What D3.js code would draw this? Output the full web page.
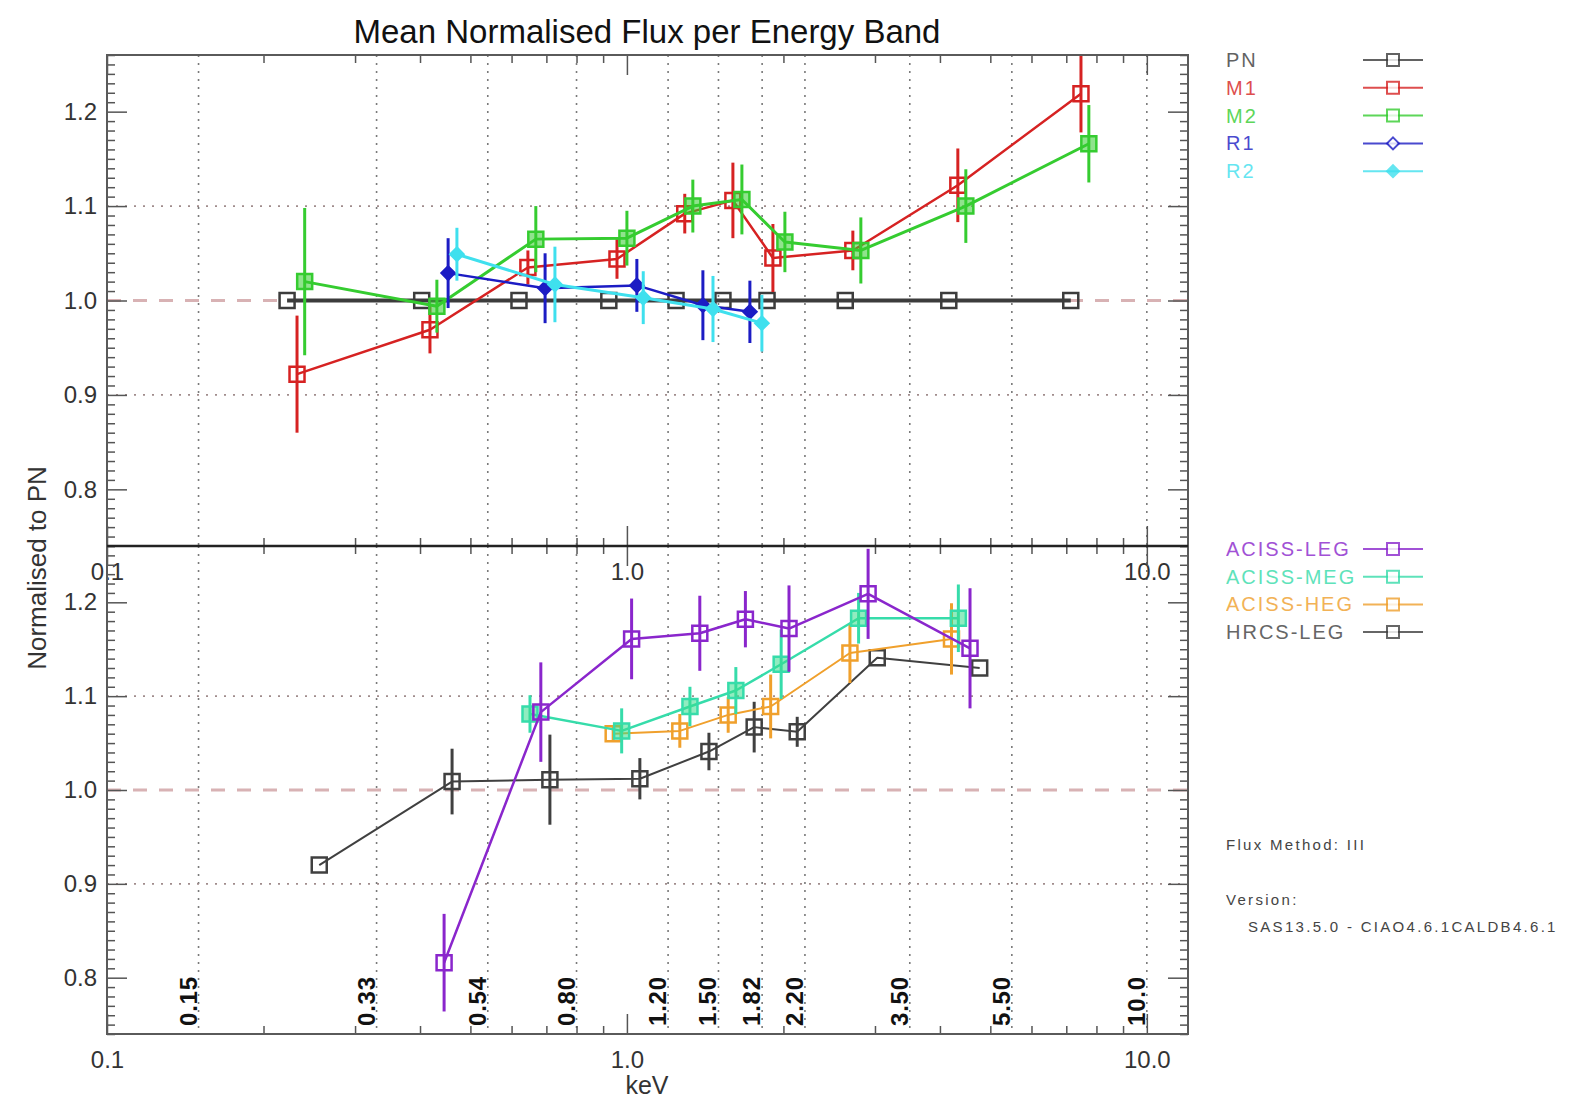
<!DOCTYPE html>
<html>
<head>
<meta charset="utf-8">
<script src="https://cdn.jsdelivr.net/npm/d3@7"></script>
<style>
  body { margin: 0; background: #fff; }
  svg { display: block; font-family: "Liberation Sans", Arial, sans-serif; }
</style>
</head>
<body>
<svg id="chart" width="1569" height="1101"></svg>
<script>
// ---- Energy bands (keV) and axis labels ----
const bandEdges  = [0.15, 0.33, 0.54, 0.80, 1.20, 1.50, 1.82, 2.20, 3.50, 5.50, 10.0];
const bandLabels = ["0.15", "0.33", "0.54", "0.80", "1.20", "1.50", "1.82", "2.20", "3.50", "5.50", "10.0"];
const xTickValues = [0.1, 1, 10];
const xTickLabels = ["0.1", "1.0", "10.0"];
const xMinorTicks = [0.2, 0.3, 0.4, 0.5, 0.6, 0.7, 0.8, 0.9, 2, 3, 4, 5, 6, 7, 8, 9];
const yTickValues = [0.8, 0.9, 1.0, 1.1, 1.2];
const yTickLabels = ["0.8", "0.9", "1.0", "1.1", "1.2"];
const yGridValues = [0.9, 1.1];

// ---- XMM-Newton instruments, normalised to PN ----
const pnEnergy = [0.222, 0.403, 0.620, 0.923, 1.243, 1.53, 1.86, 2.63, 4.16, 7.14];
const pnFlux   = [1.0, 1.0, 1.0, 1.0, 1.0, 1.0, 1.0, 1.0, 1.0, 1.0];
const pnErr    = [0, 0, 0, 0, 0, 0, 0, 0, 0, 0];

const m1Energy = [0.232, 0.418, 0.645, 0.957, 1.292, 1.599, 1.909, 2.72, 4.33, 7.47];
const m1Flux   = [0.922, 0.969, 1.035, 1.044, 1.092, 1.106, 1.045, 1.053, 1.122, 1.219];
const m1Err    = [0.062, 0.025, 0.018, 0.021, 0.021, 0.040, 0.036, 0.021, 0.039, 0.041];

const m2Energy = [0.240, 0.431, 0.668, 1.0, 1.339, 1.664, 2.013, 2.818, 4.486, 7.735];
const m2Flux   = [1.020, 0.994, 1.065, 1.066, 1.100, 1.107, 1.062, 1.053, 1.100, 1.166];
const m2Err    = [0.078, 0.028, 0.035, 0.029, 0.028, 0.037, 0.032, 0.035, 0.039, 0.041];

const r1Energy = [0.453, 0.696, 1.045, 1.400, 1.724];
const r1Flux   = [1.029, 1.013, 1.016, 0.995, 0.988];
const r1Err    = [0.037, 0.037, 0.028, 0.037, 0.033];

const r2Energy = [0.471, 0.727, 1.075, 1.464, 1.818];
const r2Flux   = [1.049, 1.017, 1.003, 0.991, 0.976];
const r2Err    = [0.028, 0.040, 0.028, 0.035, 0.030];

// ---- Chandra instruments, normalised to PN ----
const legEnergy = [0.445, 0.683, 1.021, 1.381, 1.69, 2.05, 2.91, 4.57];
const legFlux   = [0.816, 1.083, 1.161, 1.167, 1.182, 1.172, 1.209, 1.151];
const legErr    = [0.052, 0.053, 0.043, 0.040, 0.030, 0.046, 0.048, 0.064];

const megEnergy = [0.651, 0.977, 1.322, 1.62, 1.98, 2.79, 4.34];
const megFlux   = [1.081, 1.063, 1.089, 1.106, 1.134, 1.183, 1.183];
const megErr    = [0.020, 0.024, 0.021, 0.025, 0.037, 0.027, 0.036];

const hegEnergy = [0.941, 1.264, 1.566, 1.89, 2.685, 4.21];
const hegFlux   = [1.060, 1.063, 1.080, 1.089, 1.146, 1.161];
const hegErr    = [0.008, 0.018, 0.019, 0.034, 0.032, 0.038];

const hrcEnergy = [0.256, 0.461, 0.711, 1.059, 1.438, 1.757, 2.126, 3.03, 4.77];
const hrcFlux   = [0.920, 1.009, 1.011, 1.012, 1.041, 1.067, 1.062, 1.141, 1.130];
const hrcErr    = [0, 0.035, 0.048, 0.022, 0.020, 0.027, 0.016, 0, 0];

// ---- Series styling ----
const topSeries = [
  { name: "PN", color: "#3c3c3c", marker: "square", fill: "none", width: 4, energy: pnEnergy, flux: pnFlux, err: pnErr },
  { name: "M1", color: "#d62222", marker: "square", fill: "none", width: 2.5, energy: m1Energy, flux: m1Flux, err: m1Err },
  { name: "M2", color: "#35cc30", marker: "square", fill: "rgba(53,204,48,0.55)", width: 3, energy: m2Energy, flux: m2Flux, err: m2Err },
  { name: "R1", color: "#1c1cc4", marker: "diamond", fill: "#1c1cc4", width: 2.5, energy: r1Energy, flux: r1Flux, err: r1Err },
  { name: "R2", color: "#3fe0ee", marker: "diamond", fill: "#3fe0ee", width: 3, energy: r2Energy, flux: r2Flux, err: r2Err }
];
const bottomSeries = [
  { name: "HRCS-LEG", color: "#404040", marker: "square", fill: "none", width: 2, energy: hrcEnergy, flux: hrcFlux, err: hrcErr },
  { name: "ACISS-HEG", color: "#f0a02c", marker: "square", fill: "none", width: 2, energy: hegEnergy, flux: hegFlux, err: hegErr },
  { name: "ACISS-MEG", color: "#36dcaa", marker: "square", fill: "rgba(54,220,140,0.55)", width: 2.5, energy: megEnergy, flux: megFlux, err: megErr },
  { name: "ACISS-LEG", color: "#8a26cc", marker: "square", fill: "none", width: 2.5, energy: legEnergy, flux: legFlux, err: legErr }
];
const bottomLegendOrder = ["ACISS-LEG", "ACISS-MEG", "ACISS-HEG", "HRCS-LEG"];

// ---- Geometry ----
const svg = d3.select("#chart");
const L = 107, R = 1188;
const topPanel = { y0: 55, y1: 546 };
const botPanel = { y0: 546, y1: 1034 };

const x = d3.scaleLog().domain([0.1, 12]).range([L, R]);
const yTop = d3.scaleLinear().domain([0.74, 1.26]).range([topPanel.y1, topPanel.y0]);
const yBot = d3.scaleLinear().domain([0.74, 1.26]).range([botPanel.y1, botPanel.y0]);

const yMinor = d3.range(74, 127).map(v => v / 100).filter(v => Math.round(v * 100) % 10 !== 0);
const yMajor = d3.range(8, 13).map(v => v / 10);

function clip(id, p) {
  svg.append("clipPath").attr("id", id)
    .append("rect").attr("x", L).attr("y", p.y0).attr("width", R - L).attr("height", p.y1 - p.y0);
}
clip("clipTop", topPanel);
clip("clipBot", botPanel);

function stripDomain(g) { g.select(".domain").remove(); }

function drawGrid(p, y) {
  const g = svg.append("g");
  // vertical band boundaries
  g.selectAll("line.vgrid").data(bandEdges).join("line")
    .attr("x1", d => x(d)).attr("x2", d => x(d))
    .attr("y1", p.y0).attr("y2", p.y1)
    .attr("stroke", "#7a7a7a").attr("stroke-width", 1.6)
    .attr("stroke-dasharray", "2,6");
  // horizontal dotted grid
  g.selectAll("line.hgrid").data(yGridValues).join("line")
    .attr("x1", L).attr("x2", R)
    .attr("y1", d => y(d)).attr("y2", d => y(d))
    .attr("stroke", "#a08c8c").attr("stroke-width", 1.6)
    .attr("stroke-dasharray", "2,7");
  // unity reference
  g.append("line")
    .attr("x1", L).attr("x2", R)
    .attr("y1", y(1.0)).attr("y2", y(1.0))
    .attr("stroke", "#d8b2b4").attr("stroke-width", 3)
    .attr("stroke-dasharray", "14,12");
}

function drawAxes(p, y) {
  const labelStyle = g => g.selectAll("text")
    .attr("font-size", 24).attr("fill", "#333")
    .attr("font-family", "Liberation Sans, Arial, sans-serif");
  // left
  svg.append("g").attr("transform", `translate(${L},0)`)
    .call(d3.axisLeft(y).tickValues(yMinor).tickSize(-8).tickFormat(""))
    .call(stripDomain);
  svg.append("g").attr("transform", `translate(${L},0)`)
    .call(d3.axisLeft(y).tickValues(yMajor).tickSize(-20).tickPadding(10)
      .tickFormat(d => { const i = yTickValues.findIndex(v => Math.abs(v - d) < 1e-9); return i >= 0 ? yTickLabels[i] : ""; }))
    .call(stripDomain)
    .call(labelStyle);
  // right
  svg.append("g").attr("transform", `translate(${R},0)`)
    .call(d3.axisRight(y).tickValues(yMinor).tickSize(-8).tickFormat(""))
    .call(stripDomain);
  svg.append("g").attr("transform", `translate(${R},0)`)
    .call(d3.axisRight(y).tickValues(yMajor).tickSize(-20).tickFormat(""))
    .call(stripDomain);
  // top
  svg.append("g").attr("transform", `translate(0,${p.y0})`)
    .call(d3.axisTop(x).tickValues(xMinorTicks).tickSize(-8).tickFormat(""))
    .call(stripDomain);
  svg.append("g").attr("transform", `translate(0,${p.y0})`)
    .call(d3.axisTop(x).tickValues(xTickValues).tickSize(-20).tickFormat(""))
    .call(stripDomain);
  // bottom
  svg.append("g").attr("transform", `translate(0,${p.y1})`)
    .call(d3.axisBottom(x).tickValues(xMinorTicks).tickSize(-8).tickFormat(""))
    .call(stripDomain);
  svg.append("g").attr("transform", `translate(0,${p.y1})`)
    .call(d3.axisBottom(x).tickValues(xTickValues).tickSize(-20).tickPadding(17)
      .tickFormat((d, i) => xTickLabels[i]))
    .call(stripDomain)
    .call(labelStyle);
  svg.selectAll(".tick line").attr("stroke", "#555").attr("stroke-width", 1.5);
}

function markerPath(type, size) {
  const h = size / 2;
  if (type === "diamond") return `M0,${-h}L${h},0L0,${h}L${-h},0Z`;
  return `M${-h},${-h}H${h}V${h}H${-h}Z`;
}

function drawSeries(list, y, clipId, markerSize) {
  const g = svg.append("g").attr("clip-path", `url(#${clipId})`);
  list.forEach(s => {
    const pts = s.energy.map((e, i) => ({ e, v: s.flux[i], err: s.err[i] }));
    const line = d3.line().x(d => x(d.e)).y(d => y(d.v));
    g.append("path").datum(pts)
      .attr("d", line).attr("fill", "none")
      .attr("stroke", s.color).attr("stroke-width", s.width)
      .attr("stroke-linejoin", "round");
    g.selectAll(null).data(pts.filter(d => d.err > 0)).join("line")
      .attr("x1", d => x(d.e)).attr("x2", d => x(d.e))
      .attr("y1", d => y(d.v - d.err)).attr("y2", d => y(d.v + d.err))
      .attr("stroke", s.color).attr("stroke-width", 3);
    const sz = s.marker === "diamond" ? markerSize - 2 : markerSize;
    g.selectAll(null).data(pts).join("path")
      .attr("transform", d => `translate(${x(d.e)},${y(d.v)})`)
      .attr("d", markerPath(s.marker, sz))
      .attr("fill", s.fill).attr("stroke", s.color).attr("stroke-width", 2.5);
  });
}

// ---- Panels ----
drawGrid(topPanel, yTop);
drawGrid(botPanel, yBot);

// band boundary labels in the lower panel
svg.append("g").selectAll("text").data(bandEdges).join("text")
  .attr("transform", d => `translate(${x(d) - 2},1026) rotate(-90)`)
  .attr("font-size", 24).attr("font-weight", "bold").attr("letter-spacing", 0.8)
  .attr("fill", "#111")
  .text((d, i) => bandLabels[i]);

drawSeries(topSeries, yTop, "clipTop", 15);
drawSeries(bottomSeries, yBot, "clipBot", 15);

drawAxes(topPanel, yTop);
drawAxes(botPanel, yBot);

// frames
svg.append("rect").attr("x", L).attr("y", topPanel.y0).attr("width", R - L).attr("height", botPanel.y1 - topPanel.y0)
  .attr("fill", "none").attr("stroke", "#5a5a5a").attr("stroke-width", 2);
svg.append("line").attr("x1", L).attr("x2", R).attr("y1", topPanel.y1).attr("y2", topPanel.y1)
  .attr("stroke", "#222").attr("stroke-width", 2.5);

// ---- Titles ----
svg.append("text").attr("x", 647).attr("y", 43).attr("text-anchor", "middle")
  .attr("font-size", 33).attr("fill", "#111").text("Mean Normalised Flux per Energy Band");
svg.append("text").attr("transform", "translate(46,568) rotate(-90)").attr("text-anchor", "middle")
  .attr("font-size", 26).attr("fill", "#333").text("Normalised to PN");
svg.append("text").attr("x", 647).attr("y", 1094).attr("text-anchor", "middle")
  .attr("font-size", 25).attr("fill", "#333").text("keV");

// ---- Legends ----
function drawLegend(list, y0, dy) {
  const g = svg.append("g");
  list.forEach((s, i) => {
    const cy = y0 + i * dy;
    g.append("text").attr("x", 1226).attr("y", cy + 7)
      .attr("font-size", 20).attr("fill", s.color).attr("opacity", 0.8).attr("letter-spacing", 2)
      .text(s.name);
    g.append("line").attr("x1", 1363).attr("x2", 1423).attr("y1", cy).attr("y2", cy)
      .attr("stroke", s.color).attr("stroke-width", 2).attr("opacity", 0.8);
    g.append("path").attr("transform", `translate(1393,${cy})`)
      .attr("d", markerPath(s.marker, 12))
      .attr("fill", s.name === "R2" ? s.color : "white")
      .attr("stroke", s.color).attr("stroke-width", 2).attr("opacity", 0.8);
  });
}
drawLegend(topSeries, 60, 27.8);
drawLegend(bottomLegendOrder.map(n => bottomSeries.find(s => s.name === n)), 549, 27.7);

// ---- Processing notes ----
const notes = svg.append("g").attr("font-size", 15).attr("fill", "#444")
  .attr("letter-spacing", 2.3).style("white-space", "pre");
notes.append("text").attr("x", 1226).attr("y", 850).text("Flux Method: III");
notes.append("text").attr("x", 1226).attr("y", 905).text("Version:");
notes.append("text").attr("x", 1248).attr("y", 932).text("SAS13.5.0 - CIAO4.6.1CALDB4.6.1");
</script>
</body>
</html>
